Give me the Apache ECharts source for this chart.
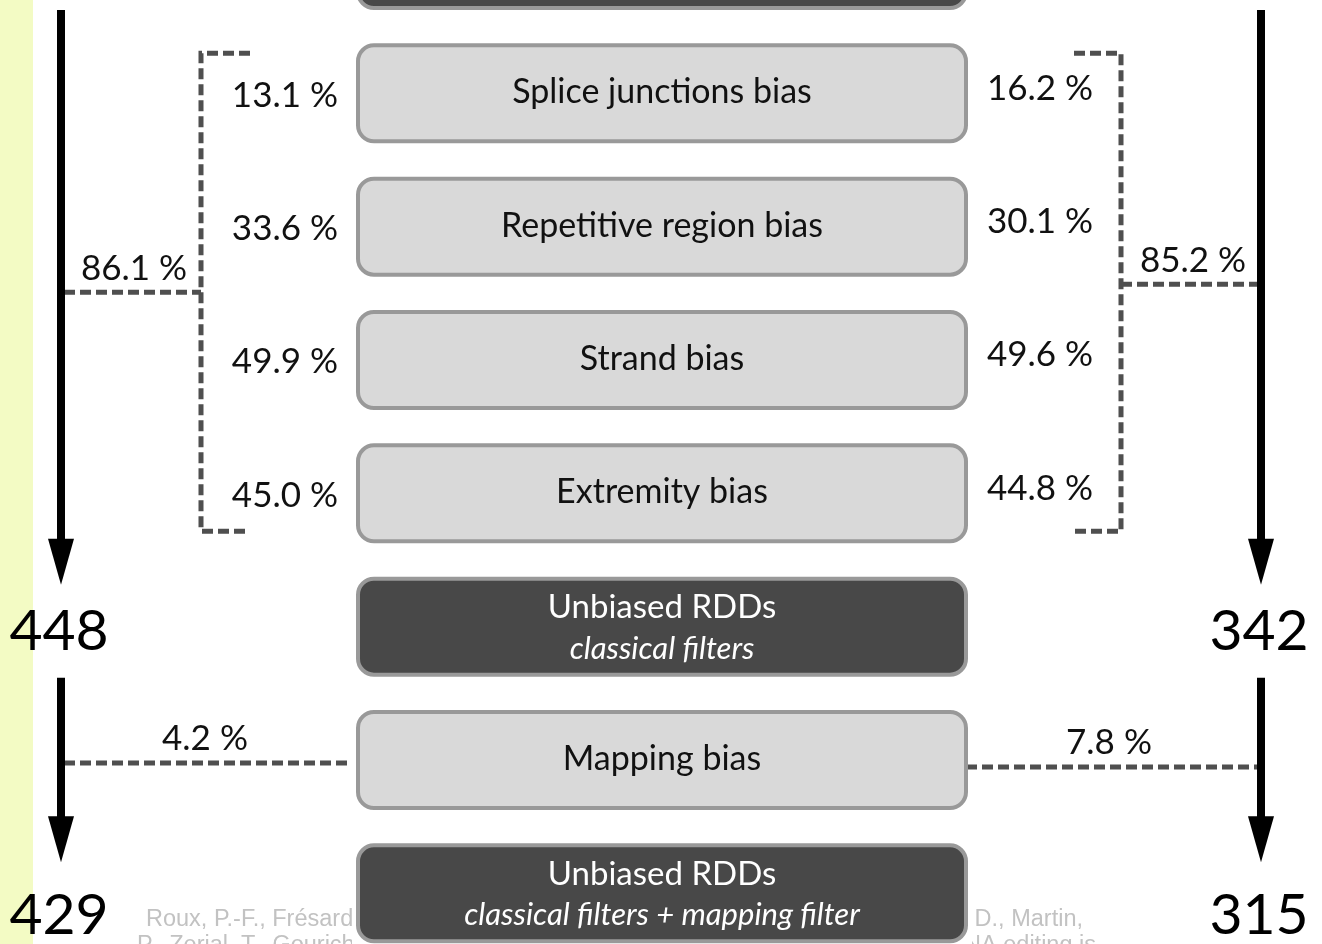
<!DOCTYPE html>
<html><head><meta charset="utf-8">
<script src="https://cdn.jsdelivr.net/npm/echarts@6/dist/echarts.min.js"></script>
<style>html,body{margin:0;padding:0;background:#fff;overflow:hidden}#c{width:1322px;height:944px}</style>
</head><body><div id="c"></div>
<script>
// ---------------- data ----------------
const stepLabels = ['RDD candidates', 'Splice junctions bias', 'Repetitive region bias', 'Strand bias', 'Extremity bias', 'Unbiased RDDs', 'Mapping bias', 'Unbiased RDDs'];
const stepSubLabels = ['', '', '', '', '', 'classical filters', '', 'classical filters + mapping filter'];
const stepDark = [true, false, false, false, false, true, false, true];
const leftBiasPct = [13.1, 33.6, 49.9, 45.0];
const rightBiasPct = [16.2, 30.1, 49.6, 44.8];
const totalBiasPct = [86.1, 85.2];      // left, right
const mappingBiasPct = [4.2, 7.8];      // left, right
const leftCounts = [448, 429];
const rightCounts = [342, 315];
const citationLine1 = ['Roux, P.-F., Frésard, L., Boutin, M., Leroux, S., Klopp, C.,', 'Klopp, C., Djari, A., Esquerré, D., Martin,'];
const citationLine2 = ['P., Zerjal, T., Gourichon, D., Pitel, F., Lagarrigue, S.', 'Lagarrigue, S. (2015). The extent of mRNA editing is'];

// ---------------- layout / style ----------------
const FONT = 'Lato, "Open Sans", sans-serif';
const BOX_X0 = 358, BOX_X1 = 966, BOX_H = 96;
const ARROW_X = [61, 1261];
const BRACKET_X = [201, 1121];
const DASH = { stroke: '#4f4f4f', lineWidth: 5, lineDash: [11, 5], fill: null };

const fmtPct = v => v.toFixed(1) + ' %';

function rowY(api, r) { return api.coord([0, r])[1]; }
function px(api, x) { return api.coord([x, 1])[0]; }

const chart = echarts.init(document.getElementById('c'), null, { renderer: 'canvas' });

const option = {
  animation: false,
  backgroundColor: '#ffffff',
  grid: { left: 0, right: 0, top: 0, bottom: 0 },
  xAxis: { type: 'value', min: 0, max: 1322, show: false },
  yAxis: { type: 'value', min: 0.3, max: 7.38, inverse: true, show: false },
  series: [
    // left yellow strip + citation (behind boxes)
    {
      type: 'custom', z: 1, silent: true,
      data: [[0, 0]],
      renderItem: function (params, api) {
        const y7 = rowY(api, 7);
        const children = [
          { type: 'rect', shape: { x: 0, y: 0, width: px(api, 33), height: 944 }, style: { fill: '#f3fbc4' } }
        ];
        const f = '23.5px "Liberation Sans", Arial, sans-serif';
        const col = '#c2c2c2';
        children.push({ type: 'text', style: { text: citationLine1[0], x: px(api, 146), y: y7 + 26, align: 'left', verticalAlign: 'middle', font: f, fill: col } });
        children.push({ type: 'text', style: { text: citationLine1[1], x: px(api, 1083), y: y7 + 26, align: 'right', verticalAlign: 'middle', font: f, fill: col } });
        children.push({ type: 'text', style: { text: citationLine2[0], x: px(api, 137), y: y7 + 52, align: 'left', verticalAlign: 'middle', font: f, fill: col } });
        children.push({ type: 'text', style: { text: citationLine2[1], x: px(api, 1096), y: y7 + 52, align: 'right', verticalAlign: 'middle', font: f, fill: col } });
        // white backing under the last box, hiding the middle of the citation
        children.push({ type: 'rect', shape: { x: px(api, BOX_X0 - 6), y: y7, width: px(api, BOX_X1 + 6) - px(api, BOX_X0 - 6), height: 944 - y7 }, style: { fill: '#ffffff' } });
        return { type: 'group', children: children };
      }
    },
    // step boxes
    {
      type: 'custom', z: 5, silent: true,
      data: stepLabels.map((l, i) => [0, i]),
      renderItem: function (params, api) {
        const i = api.value(1);
        const y = rowY(api, i);
        const x0 = px(api, BOX_X0), x1 = px(api, BOX_X1);
        const dark = stepDark[i];
        const sub = stepSubLabels[i];
        const cx = (x0 + x1) / 2;
        const children = [
          { type: 'rect', shape: { x: x0, y: y - BOX_H / 2, width: x1 - x0, height: BOX_H, r: 16 },
            style: { fill: dark ? '#484848' : '#d9d9d9', stroke: '#999999', lineWidth: 4 } },
          { type: 'text', style: { text: stepLabels[i], x: cx, y: sub ? y - 19 : y - 1, align: 'center', verticalAlign: 'middle',
            font: (dark ? '33px ' : '34px ') + FONT, fill: dark ? '#ffffff' : '#111111' } }
        ];
        if (sub) {
          children.push({ type: 'text', style: { text: sub, x: cx, y: y + 22, align: 'center', verticalAlign: 'middle',
            font: 'italic 31px ' + FONT, fill: '#ffffff' } });
        }
        return { type: 'group', children: children };
      }
    },
    // per-bias percentages, left
    {
      type: 'custom', z: 4, silent: true,
      data: leftBiasPct.map((v, i) => [v, i + 1]),
      renderItem: function (params, api) {
        return { type: 'text', style: { text: fmtPct(api.value(0)), x: px(api, 338), y: rowY(api, api.value(1)) + 2,
          align: 'right', verticalAlign: 'middle', font: '35px ' + FONT, fill: '#111111' } };
      }
    },
    // per-bias percentages, right
    {
      type: 'custom', z: 4, silent: true,
      data: rightBiasPct.map((v, i) => [v, i + 1]),
      renderItem: function (params, api) {
        return { type: 'text', style: { text: fmtPct(api.value(0)), x: px(api, 987), y: rowY(api, api.value(1)) - 5,
          align: 'left', verticalAlign: 'middle', font: '35px ' + FONT, fill: '#111111' } };
      }
    },
    // brackets with total percentages
    {
      type: 'custom', z: 3, silent: true,
      data: totalBiasPct.map((v, s) => [v, s]),
      renderItem: function (params, api) {
        const s = api.value(1);
        const bx = px(api, BRACKET_X[s]);
        const ax = px(api, ARROW_X[s]);
        const yTop = rowY(api, 1) - 40, yBot = rowY(api, 4) + 38;
        const tipX = px(api, s === 0 ? 250 : 1074);
        const yMid = rowY(api, 2.5) + (s === 0 ? -1 : -9);
        const labX = s === 0 ? px(api, 134) : px(api, 1193);
        return { type: 'group', children: [
          { type: 'polyline', shape: { points: [[tipX, yTop], [bx, yTop], [bx, yBot], [tipX, yBot]] }, style: DASH },
          { type: 'line', shape: { x1: s === 0 ? ax + 3 : bx, y1: yMid, x2: s === 0 ? bx : ax - 3, y2: yMid }, style: DASH },
          { type: 'text', style: { text: fmtPct(api.value(0)), x: labX, y: yMid - 24, align: 'center', verticalAlign: 'middle',
            font: '35px ' + FONT, fill: '#111111' } }
        ] };
      }
    },
    // mapping bias dashed lines
    {
      type: 'custom', z: 3, silent: true,
      data: mappingBiasPct.map((v, s) => [v, s]),
      renderItem: function (params, api) {
        const s = api.value(1);
        const ax = px(api, ARROW_X[s]);
        const y = rowY(api, 6) + (s === 0 ? 3 : 7);
        const x1 = s === 0 ? ax + 3 : px(api, BOX_X1);
        const x2 = s === 0 ? px(api, BOX_X0 - 6) : ax - 3;
        const labX = s === 0 ? px(api, 205) : px(api, 1109);
        return { type: 'group', children: [
          { type: 'line', shape: { x1: x1, y1: y, x2: x2, y2: y }, style: DASH },
          { type: 'text', style: { text: fmtPct(api.value(0)), x: labX, y: y - 24, align: 'center', verticalAlign: 'middle',
            font: '35px ' + FONT, fill: '#111111' } }
        ] };
      }
    },
    // flow arrows and counts
    {
      type: 'custom', z: 6, silent: true,
      data: leftCounts.map((v, k) => [v, 0, k]).concat(rightCounts.map((v, k) => [v, 1, k])),
      renderItem: function (params, api) {
        const s = api.value(1), k = api.value(2);
        const x = px(api, ARROW_X[s]);
        const yTop = k === 0 ? rowY(api, 0) + 50 : rowY(api, 5) + 51;
        const yTip = k === 0 ? rowY(api, 5) - 42 : rowY(api, 7) - 31;
        const headH = 46, headW = 26, shaftW = 8;
        const numY = k === 0 ? rowY(api, 5) + 5 : rowY(api, 7) + 22;
        return { type: 'group', children: [
          { type: 'rect', shape: { x: x - shaftW / 2, y: yTop, width: shaftW, height: yTip - headH - yTop + 2 }, style: { fill: '#000000' } },
          { type: 'polygon', shape: { points: [[x - headW / 2, yTip - headH], [x + headW / 2, yTip - headH], [x, yTip]] }, style: { fill: '#000000' } },
          { type: 'text', style: { text: String(api.value(0)), x: x - 2, y: numY, align: 'center', verticalAlign: 'middle',
            font: '57px ' + FONT, fill: '#000000' } }
        ] };
      }
    }
  ]
};
chart.setOption(option);
</script>
</body></html>
